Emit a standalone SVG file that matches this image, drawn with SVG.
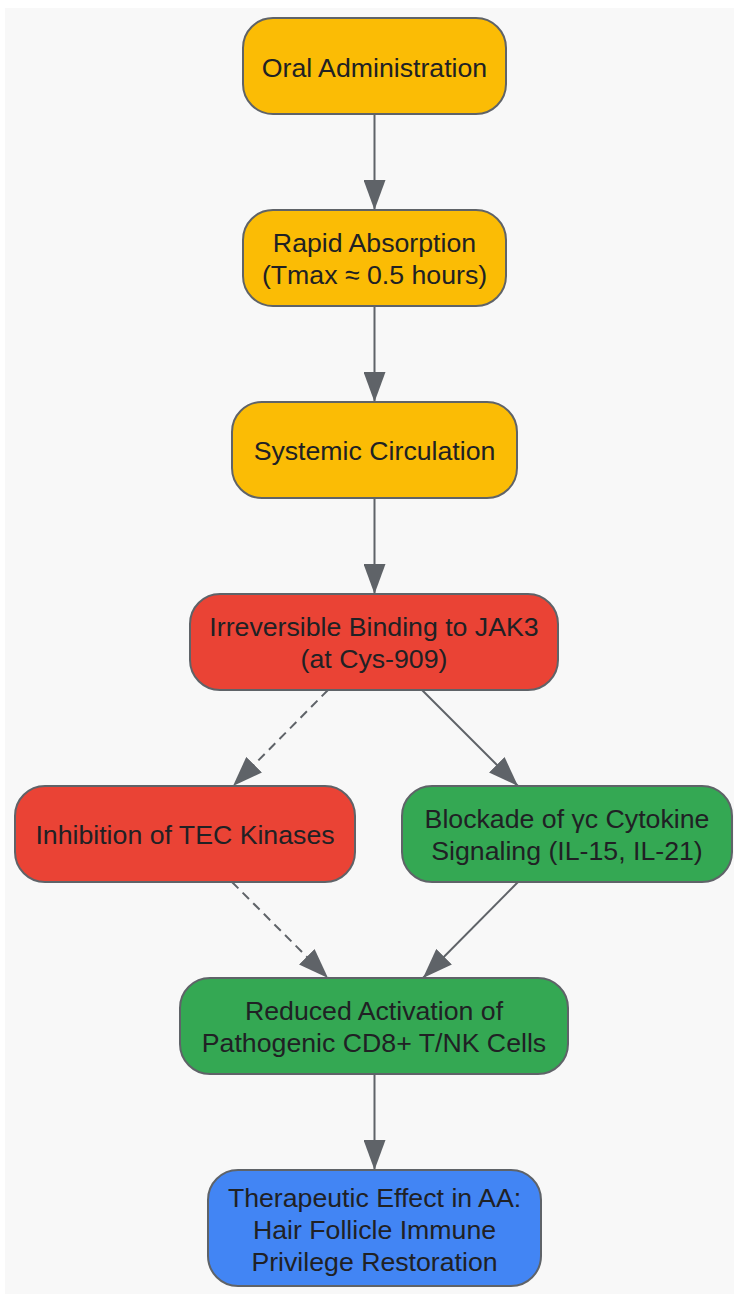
<svg xmlns="http://www.w3.org/2000/svg" width="734" height="1294" viewBox="0 0 734 1294">
<style>
.n rect{stroke:#5f6368;stroke-width:2}
.y{fill:#FBBC05}.r{fill:#EA4335}.g{fill:#34A853}.b{fill:#4285F4}
text{font-family:"Liberation Sans",Arial,sans-serif;font-size:26.7px;fill:#202124;text-anchor:middle}
.e{stroke:#5f6368;stroke-width:2;fill:none;marker-end:url(#a)}
.d{stroke-dasharray:9,6}
</style>
<defs>
<marker id="a" viewBox="0 0 30 22" refX="30" refY="11" markerWidth="30" markerHeight="22" markerUnits="userSpaceOnUse" orient="auto">
<path d="M0,0L30,11L0,22z" fill="#5f6368"/>
</marker>
</defs>
<rect x="5" y="8" width="729" height="1286" fill="#f8f8f8"/>
<g id="edges">
<path class="e" d="M374.5,114V210"/>
<path class="e" d="M374.5,306V402"/>
<path class="e" d="M374.5,498V594"/>
<path class="e d" d="M328,690L233,786"/>
<path class="e" d="M422,690L518,786"/>
<path class="e d" d="M232,882L328,978"/>
<path class="e" d="M518,882L423,978"/>
<path class="e" d="M374.5,1074V1170"/>
</g>
<g id="n1" class="n"><rect class="y" x="243" y="18" width="263" height="96" rx="30"/><text x="374.5" y="76.5">Oral Administration</text></g>
<g id="n2" class="n"><rect class="y" x="243" y="210" width="263" height="96" rx="30"/><text x="374.5" y="252">Rapid Absorption</text><text x="374.5" y="284">(Tmax ≈ 0.5 hours)</text></g>
<g id="n3" class="n"><rect class="y" x="232" y="402" width="285" height="96" rx="30"/><text x="374.5" y="459.6">Systemic Circulation</text></g>
<g id="n4" class="n"><rect class="r" x="190" y="594" width="368" height="96" rx="30"/><text x="374" y="635.6">Irreversible Binding to JAK3</text><text x="374" y="667.6">(at Cys-909)</text></g>
<g id="n5" class="n"><rect class="r" x="15" y="786" width="340" height="96" rx="30"/><text x="185" y="843.6">Inhibition of TEC Kinases</text></g>
<g id="n6" class="n"><rect class="g" x="402" y="786" width="330" height="96" rx="30"/><text x="567" y="827.6">Blockade of γc Cytokine</text><text x="567" y="859.6">Signaling (IL-15, IL-21)</text></g>
<g id="n7" class="n"><rect class="g" x="180" y="978" width="388" height="96" rx="30"/><text x="374" y="1019.6">Reduced Activation of</text><text x="374" y="1051.6">Pathogenic CD8+ T/NK Cells</text></g>
<g id="n8" class="n"><rect class="b" x="208" y="1170" width="333" height="116" rx="30"/><text x="374.5" y="1207">Therapeutic Effect in AA:</text><text x="374.5" y="1239">Hair Follicle Immune</text><text x="374.5" y="1271">Privilege Restoration</text></g>
</svg>
